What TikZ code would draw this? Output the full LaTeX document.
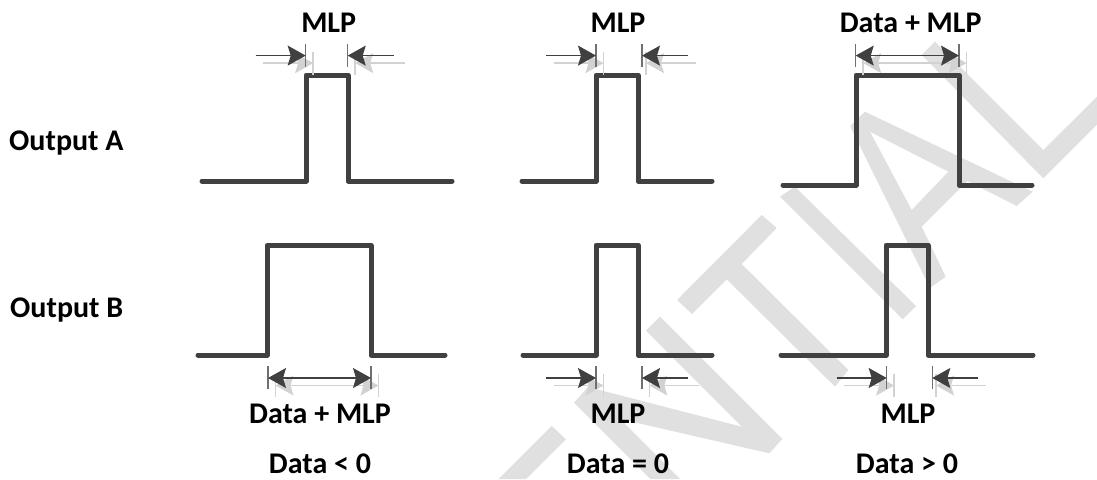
\documentclass[tikz,border=0pt]{standalone}
\usepackage{fontspec}
\setmainfont{Carlito}
\usetikzlibrary{arrows.meta}
\definecolor{wave}{HTML}{404040}
\definecolor{mark}{HTML}{E0E0E0}
\definecolor{ghost}{HTML}{D2D2D2}
\definecolor{tick}{HTML}{707070}
\tikzset{>={Stealth[length=18pt,width=20pt,inset=3pt]}}
\tikzset{pulse/.style = {draw=wave,line width=5pt,line join=round,line cap=round}}
\tikzset{lbl/.style = {anchor=base,inner sep=0pt,font=\fontsize{30}{30}\selectfont\bfseries}}
\tikzset{dimline/.style = {draw=wave,fill=wave,line width=1.3pt}}
\tikzset{dimtick/.style = {draw=tick,line width=1.5pt}}
\tikzset{ghostline/.style = {draw=ghost,fill=ghost,line width=1.5pt}}
\tikzset{ghosttick/.style = {draw=ghost,line width=1.5pt}}
\tikzset{wmark/.style = {fill=mark,draw=none}}

\begin{document}
\begin{tikzpicture}[x=1pt,y=-1pt]
    \useasboundingbox (0,0) rectangle (1097,479);

    % Watermark
    \fill[wmark] (551.7,426) -- (566,439.3) -- (526,479) -- (498.7,479) -- cycle;
    \fill[wmark] (574,402.7) -- (588,387) -- (741.7,426.7) -- (646,330.7) -- (660,316.7)
        -- (782.3,439) -- (769.3,453.3) -- (620,419) -- (680,479) -- (650.3,479) -- cycle;
    \fill[wmark] (761.7,215) -- (776.7,228) -- (741.7,264) -- (848.3,370) -- (835,386.7)
        -- (726.7,279.3) -- (692,314) -- (677,300) -- cycle;
    \fill[wmark] (795,186.7) -- (916,306) -- (902.7,319.3) -- (780,196.7) -- cycle;
    \fill[wmark,even odd rule] (865,111.7) -- (1032.7,191.7) -- (1016.7,206) -- (967.5,181)
        -- (921.7,226.7) -- (945.7,276.7) -- (930,288) -- (850,126) -- cycle
        (870,131.7) -- (948.3,171.7) -- (911.7,210) -- cycle;
    \fill[wmark] (935,41.7) -- (921.7,55) -- (1043.3,178.3) -- (1097,124.6) -- (1097,96.7)
        -- (1043.3,150) -- cycle;

    % Labels
    \node[lbl,anchor=base west] (outa) at (9,150) {Output A};
    \node[lbl,anchor=base west] (outb) at (10,317.7) {Output B};
    \node[lbl] (mlpa) at (328.7,32) {MLP};
    \node[lbl] (mlpb) at (618,32) {MLP};
    \node[lbl] (dma) at (910.7,32) {Data + MLP};
    \node[lbl] (dmb) at (320,423) {Data + MLP};
    \node[lbl] (mlpc) at (618,423) {MLP};
    \node[lbl] (mlpd) at (908,423) {MLP};
    \node[lbl] (neg) at (320,473) {Data < 0};
    \node[lbl] (zero) at (618,473) {Data = 0};
    \node[lbl] (pos) at (907,473) {Data > 0};

    % Output A
    \draw[pulse] (202,181) -| (306,75) -| (348,181) -- (452,181);
    \draw[pulse] (522,181) -| (596,75) -| (638,181) -- (712,181);
    \draw[pulse] (783,185) -| (856,75) -| (959,185) -- (1032,185);

    % Output B
    \draw[pulse] (198,355) -| (267,245.5) -| (371,355) -- (445,355);
    \draw[pulse] (523,355) -| (596,245) -| (638,355) -- (712,355);
    \draw[pulse] (781,355) -| (886,245) -| (928,355) -- (1033,355);

    % Arrows pointing in
    \foreach \n/\xl/\xr/\xs/\ym in {a/305.7/347.7/355.2/55.6, b/596/642/646/55.6,
                                    c/596/642/649.3/378, d/886.7/932.3/936/378} {
        \coordinate (\n lt) at (\xl+7.5,\ym-3.6);
        \coordinate (\n lb) at (\xl+7.5,\ym+19);
        \coordinate (\n rt) at (\xs,\ym-3.6);
        \coordinate (\n rb) at (\xs,\ym+19);
        \coordinate (\n la) at (\xl-42.5,\ym+7.5);
        \coordinate (\n ra) at (\xs+50,\ym+7.5);
        \draw[ghosttick] (\n lt) -- (\n lb);
        \draw[ghosttick] (\n rt) -- (\n rb);
        \draw[ghostline,->] (\n la) -- (\n lb |- \n la);
        \draw[ghostline,->] (\n ra) -- (\n rb |- \n ra);
        \coordinate (\n tl) at (\xl,\ym-11.6);
        \coordinate (\n bl) at (\xl,\ym+11.4);
        \coordinate (\n tr) at (\xr,\ym-11.6);
        \coordinate (\n br) at (\xr,\ym+11.4);
        \coordinate (\n sl) at (\xl-50,\ym);
        \coordinate (\n sr) at (\xr+46,\ym);
        \draw[dimtick] (\n tl) -- (\n bl);
        \draw[dimtick] (\n tr) -- (\n br);
        \draw[dimline,->] (\n sl) -- (\n bl |- \n sl);
        \draw[dimline,->] (\n sr) -- (\n br |- \n sr);
    }

    % Arrows pointing out
    \foreach \n/\xl/\xr/\ym in {e/855.7/959/55.6, f/268/371/378} {
        \coordinate (\n lt) at (\xl+7.5,\ym-3.6);
        \coordinate (\n lb) at (\xl+7.5,\ym+19);
        \coordinate (\n rt) at (\xr+7.5,\ym-3.6);
        \coordinate (\n rb) at (\xr+7.5,\ym+19);
        \draw[ghosttick] (\n lt) -- (\n lb);
        \draw[ghosttick] (\n rt) -- (\n rb);
        \coordinate (\n la) at (\xl+7.5,\ym+7.5);
        \coordinate (\n ra) at (\xr+7.5,\ym+7.5);
        \draw[ghostline,<->] (\n la) -- (\n ra);
        \coordinate (\n tl) at (\xl,\ym-11.6);
        \coordinate (\n bl) at (\xl,\ym+11.4);
        \coordinate (\n tr) at (\xr,\ym-11.6);
        \coordinate (\n br) at (\xr,\ym+11.4);
        \draw[dimtick] (\n tl) -- (\n bl);
        \draw[dimtick] (\n tr) -- (\n br);
        \coordinate (\n sl) at (\xl,\ym);
        \coordinate (\n sr) at (\xr,\ym);
        \draw[dimline,<->] (\n sl) -- (\n sr);
    }
\end{tikzpicture}
\end{document}
